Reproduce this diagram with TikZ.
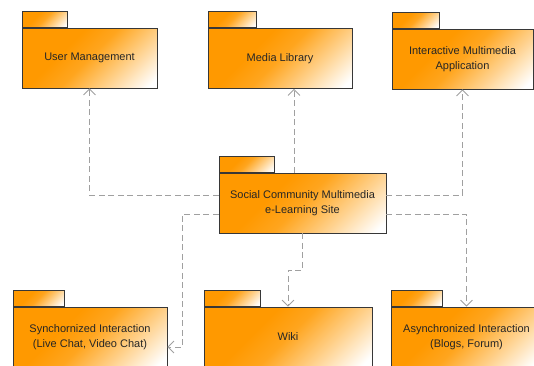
\documentclass[tikz,border=0pt]{standalone}
\usepackage{fontspec}
\setmainfont{Liberation Sans}
\usetikzlibrary{arrows.meta,calc}
\definecolor{orng}{RGB}{255,153,0}
\definecolor{edgec}{RGB}{55,55,55}
\definecolor{depc}{RGB}{160,160,160}
\pgfdeclareverticalshading{pkgshade}{100bp}{color(0bp)=(white); color(18bp)=(white); color(34bp)=(orng!45!white); color(50bp)=(orng!88!white); color(62bp)=(orng); color(100bp)=(orng)}
\tikzset{
 pkgbody/.style={draw=edgec, line width=0.8pt, shading=pkgshade, shading angle=45, inner sep=0pt, align=center, font=\fontsize{11}{15}\selectfont, text=black!85, minimum height=60pt},
 pkgtab/.style={draw=edgec, line width=0.8pt, shading=pkgshade, shading angle=45, inner sep=0pt, minimum height=16pt, anchor=south west},
 depline/.style={draw=depc, line width=0.8pt, dash pattern=on 6pt off 3.5pt, -{Straight Barb[length=6pt,width=12pt]}},
}
\begin{document}
\begin{tikzpicture}[x=1pt,y=-1pt]
\useasboundingbox (0,0) rectangle (534,365);
\node[pkgbody, minimum width=135pt] (um) at (89.5,58) {User Management};
\node[pkgtab, minimum width=45pt] (umt) at (um.north west) {};
\node[pkgbody, minimum width=144pt] (ml) at (280,58.5) {Media Library};
\node[pkgtab, minimum width=48pt] (mlt) at (ml.north west) {};
\node[pkgbody, minimum width=141pt] (ia) at (462.5,59) {Interactive Multimedia\\Application};
\node[pkgtab, minimum width=47pt] (iat) at (ia.north west) {};
\node[pkgbody, minimum width=167pt] (cen) at (302.5,203) {Social Community Multimedia\\e-Learning Site};
\node[pkgtab, minimum width=55pt] (cent) at (cen.north west) {};
\node[pkgbody, minimum width=154pt] (sy) at (90,337) {Synchornized Interaction\\(Live Chat, Video Chat)};
\node[pkgtab, minimum width=51pt] (syt) at (sy.north west) {};
\node[pkgbody, minimum width=168pt] (wk) at (288,337) {Wiki};
\node[pkgtab, minimum width=56pt] (wkt) at (wk.north west) {};
\node[pkgbody, minimum width=151pt] (as) at (466.5,337) {Asynchronized Interaction\\(Blogs, Forum)};
\node[pkgtab, minimum width=51pt] (ast) at (as.north west) {};
\coordinate (mlx) at (294,0);
\draw[depline] ([yshift=8pt]cen.west) -| (um.south);
\draw[depline] (cen.north -| mlx) -- (ml.south -| mlx);
\draw[depline] ([yshift=8pt]cen.east) -| (ia.south);
\draw[depline] ([yshift=-11pt]cen.west) -| ([xshift=15pt,yshift=-10pt]sy.east) -- ([yshift=-10pt]sy.east);
\draw[depline] (cen.south) |- ($(cen.south)!.5!(wk.north)$) -| (wk.north);
\draw[depline] ([yshift=-11pt]cen.east) -| (as.north);
\end{tikzpicture}
\end{document}
